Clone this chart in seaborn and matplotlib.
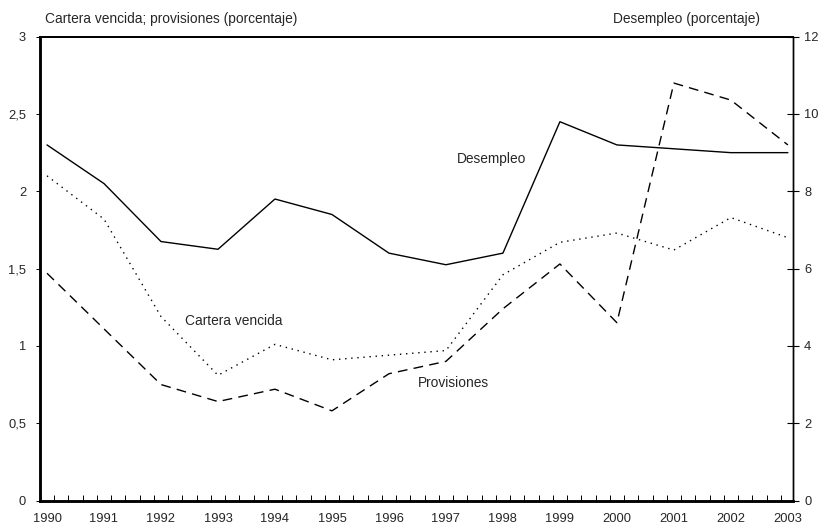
import matplotlib.pyplot as plt
import numpy as np
import seaborn as sns
from matplotlib.ticker import FixedLocator

# Data
years = ["1990", "1991", "1992", "1993", "1994", "1995", "1996",
         "1997", "1998", "1999", "2000", "2001", "2002", "2003"]
desempleo = [9.2, 8.2, 6.7, 6.5, 7.8, 7.4, 6.4, 6.1, 6.4, 9.8, 9.2, 9.1, 9.0, 9.0]
cartera_vencida = [2.10, 1.82, 1.19, 0.81, 1.01, 0.91, 0.94, 0.97, 1.46, 1.67,
                   1.73, 1.62, 1.83, 1.70]
provisiones = [1.47, 1.11, 0.75, 0.64, 0.72, 0.58, 0.82, 0.90, 1.24, 1.53,
               1.15, 2.70, 2.59, 2.30]
left_ticks = [0, 0.5, 1, 1.5, 2, 2.5, 3]
left_ticklabels = ["0", "0,5", "1", "1,5", "2", "2,5", "3"]
right_ticks = [0, 2, 4, 6, 8, 10, 12]

sns.set_style("ticks")
plt.rcParams["font.family"] = ["Liberation Sans", "DejaVu Sans"]

fig = plt.figure(figsize=(8.22, 5.28), dpi=100)
ax = fig.add_axes([40 / 822, 27.5 / 528, 753 / 822, 463.8 / 528])
ax2 = ax.twinx()

x = np.arange(len(years))

# Left axis series
sns.lineplot(x=x, y=cartera_vencida, ax=ax, color="black", linewidth=1.0,
             linestyle=(0, (1, 3.4)))
sns.lineplot(x=x, y=provisiones, ax=ax, color="black", linewidth=1.0,
             linestyle=(0, (7, 4.5)))
# Right axis series
sns.lineplot(x=x, y=desempleo, ax=ax2, color="black", linewidth=1.0)

xmin, xmax = -0.123, 13.09
ax.set_xlim(xmin, xmax)
ax.set_ylim(0, 3)
ax2.set_ylim(0, 12)

# x axis: labels at each year, quarterly minor ticks pointing inward
ax.set_xticks(x)
ax.set_xticklabels(years, fontsize=9.3)
ax.xaxis.set_minor_locator(FixedLocator(np.arange(xmin, xmax, 0.25)))
ax.tick_params(axis="x", which="major", length=0, pad=9)
ax.tick_params(axis="x", which="minor", direction="in", length=4, width=0.7, color="black")

ax.set_yticks(left_ticks)
ax.set_yticklabels(left_ticklabels, fontsize=9.3)
ax.tick_params(axis="y", direction="out", length=3, width=0.7, pad=7, color="black")

ax2.set_yticks(right_ticks)
ax2.set_yticklabels([str(t) for t in right_ticks], fontsize=9.3)
ax2.tick_params(axis="y", direction="inout", length=8, width=0.8, pad=4, color="black")

for a in (ax, ax2):
    a.spines["left"].set_linewidth(1.8)
    a.spines["bottom"].set_linewidth(1.8)
    a.spines["top"].set_linewidth(1.3)
    a.spines["right"].set_linewidth(1.0)
    for s in a.spines.values():
        s.set_visible(True)
        s.set_color("black")
    a.set_xlabel("")
    a.set_ylabel("")

# Series labels
ax.text(7.19, 2.208, "Desempleo", fontsize=9.9, va="center", ha="left")
ax.text(2.42, 1.164, "Cartera vencida", fontsize=9.9, va="center", ha="left")
ax.text(6.51, 0.762, "Provisiones", fontsize=9.9, va="center", ha="left")

# Axis titles
fig.text(45 / 822, 1 - 19 / 528, "Cartera vencida; provisiones (porcentaje)",
         fontsize=9.9, ha="left", va="center")
fig.text(760 / 822, 1 - 19 / 528, "Desempleo (porcentaje)",
         fontsize=9.9, ha="right", va="center")

fig.savefig("out.png", dpi=100)
